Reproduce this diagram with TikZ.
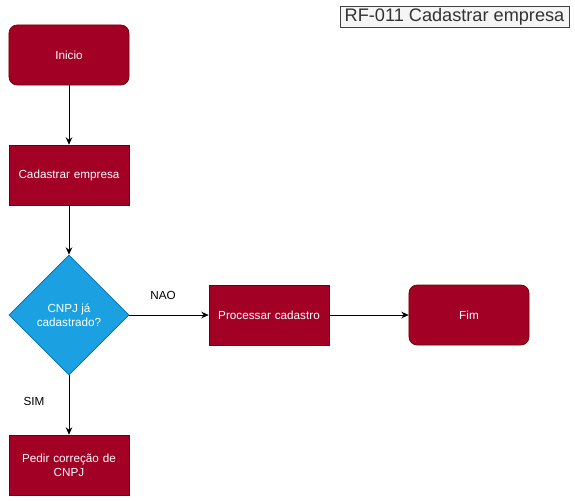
\documentclass[tikz,border=0pt]{standalone}
\usepackage{fontspec}
\setmainfont{Liberation Sans}
\usetikzlibrary{arrows.meta,shapes.geometric}
\definecolor{wine}{RGB}{162,0,37}
\definecolor{wineline}{RGB}{111,0,0}
\definecolor{sky}{RGB}{27,161,226}
\definecolor{skyline}{RGB}{0,110,175}
\definecolor{ink}{RGB}{0,0,0}
\tikzset{
  >={Stealth[length=2.2mm,width=2mm]},
  task/.style={draw=wineline,fill=wine,text=white,line width=0.6pt,
    minimum width=3.6cm,minimum height=1.8cm,align=center,font=\fontsize{10}{12}\selectfont,
    inner sep=2pt,text width=3.3cm},
  terminal/.style={task,rounded corners=7pt},
  decision/.style={diamond,aspect=1,draw=skyline,fill=sky,text=white,line width=0.6pt,
    minimum width=3.6cm,minimum height=3.6cm,inner sep=0pt,align=center,
    font=\fontsize{10}{12}\selectfont},
  flow/.style={->,line width=0.75pt,draw=ink},
  tag/.style={font=\fontsize{10}{12}\selectfont,text=ink},
}
\begin{document}
\begin{tikzpicture}[x=0.03cm,y=-0.03cm]
  \useasboundingbox (0,0) rectangle (575,501);
  % title
  \node[draw=black!75,fill=black!4,line width=0.6pt,minimum width=6.87cm,minimum height=0.63cm,
    inner sep=0pt,font=\fontsize{15.5}{16}\selectfont,text=black!80] (title) at (454.5,16.5) {RF-011 Cadastrar empresa};
  % steps
  \node[terminal] (inicio) at (69,55) {Inicio};
  \node[task] (cadastrar) at (69,175) {Cadastrar empresa};
  \node[decision] (cnpj) at (69,315) {CNPJ já\\cadastrado?};
  \node[task] (processar) at (269,315) {Processar cadastro};
  \node[terminal] (fim) at (469,315) {Fim};
  \node[task] (pedir) at (69,465) {Pedir correção de\\CNPJ};
  % connectors
  \draw[flow] (inicio) -- (cadastrar);
  \draw[flow] (cadastrar) -- (cnpj);
  \draw[flow] (cnpj) -- (processar);
  \draw[flow] (processar) -- (fim);
  \draw[flow] (cnpj) -- (pedir);
  \node[tag] (nao) at (163,295) {NAO};
  \node[tag] (sim) at (34,401) {SIM};
\end{tikzpicture}
\end{document}
